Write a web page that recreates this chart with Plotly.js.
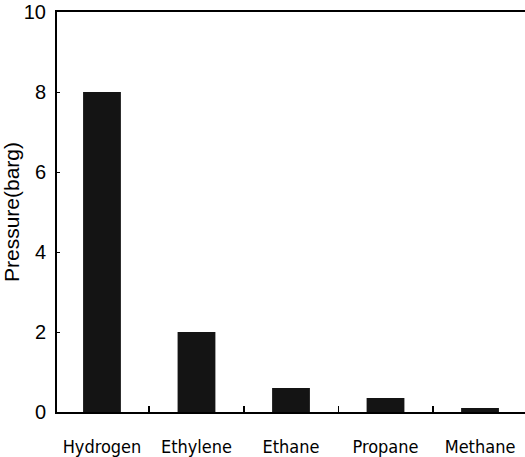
<!DOCTYPE html>
<html>
<head>
<meta charset="utf-8">
<script src="https://cdn.plot.ly/plotly-3.0.1.min.js"></script>
<style>html,body{margin:0;padding:0;background:#fff;}#chart{width:525px;height:457px;}</style>
</head>
<body>
<div id="chart"></div>
<script>
const gases = ["Hydrogen", "Ethylene", "Ethane", "Propane", "Methane"];
const pressure = [8.0, 2.0, 0.6, 0.35, 0.1];
const yTicks = [0, 2, 4, 6, 8, 10];

const trace = {
  type: "bar",
  x: gases,
  y: pressure,
  width: 0.4,
  marker: {color: "#141414", line: {width: 0}},
  hoverinfo: "x+y"
};

const layout = {
  width: 525, height: 457,
  margin: {l: 57, r: 0, t: 12, b: 45, pad: 0},
  paper_bgcolor: "#fff", plot_bgcolor: "#fff",
  showlegend: false,
  font: {family: "Liberation Sans, Arial, sans-serif", color: "#000"},
  xaxis: {
    type: "category",
    range: [-0.476, 4.476],
    showline: true, linecolor: "#000", linewidth: 2, mirror: true,
    ticks: "inside", ticklen: 6, tickwidth: 1.5, tickcolor: "#000",
    tickson: "boundaries",
    tickangle: 0,
    showgrid: false, zeroline: false,
    tickfont: {family: "DejaVu Sans Condensed, Liberation Sans Narrow, Liberation Sans, sans-serif", size: 18, color: "#000"},
    ticklabelstandoff: 17
  },
  yaxis: {
    range: [0, 10],
    tickvals: yTicks,
    showline: true, linecolor: "#000", linewidth: 2,
    ticks: "inside", ticklen: 3, tickwidth: 1, tickcolor: "#000",
    showgrid: false, zeroline: false,
    tickfont: {size: 20, color: "#000"},
    ticklabelstandoff: 5,
    title: {text: "Pressure(barg)", font: {size: 21, color: "#000"}, standoff: 3}
  }
};

Plotly.newPlot("chart", [trace], layout, {staticPlot: true, displayModeBar: false});
</script>
</body>
</html>
